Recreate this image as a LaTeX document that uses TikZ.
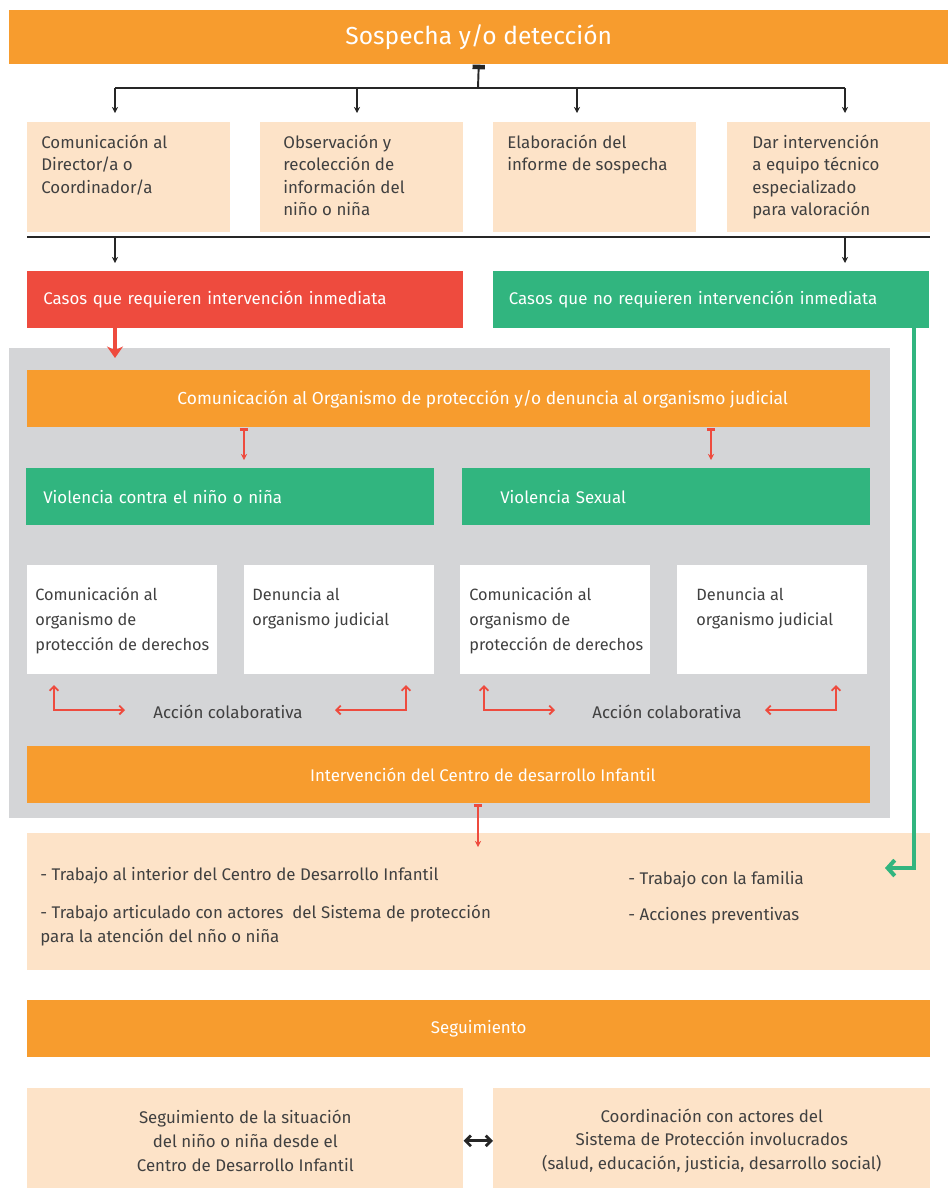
\documentclass[tikz,border=0pt]{standalone}
\usepackage{fontspec}
\setmainfont{Fira Sans}
\usetikzlibrary{arrows.meta}
\definecolor{flowOrange}{HTML}{F79C2E}
\definecolor{flowPeach}{HTML}{FDE3C8}
\definecolor{flowRed}{HTML}{EE4B3E}
\definecolor{flowGreen}{HTML}{31B57F}
\definecolor{flowGray}{HTML}{D4D5D7}
\definecolor{flowText}{HTML}{404040}
\newcommand{\bodyfont}{\fontsize{9.6}{12.8}\selectfont}
\begin{document}
\begin{tikzpicture}[x=0.02cm,y=-0.02cm,
    box/.style={rectangle,inner sep=0pt,anchor=north west},
    band/.style={box,minimum height=1.14cm,font=\bodyfont,text=white},
    txt/.style={inner sep=0pt,anchor=north west,align=left,font=\bodyfont,text=flowText},
    blackline/.style={draw=black!85,line width=1.1pt},
    blackarrow/.style={blackline,-{Stealth[length=3.5pt,width=3.5pt]}},
    redbar/.style={draw=flowRed,line width=1pt,{Bar[width=5pt,line width=1.8pt]}-{Stealth[length=3.5pt,width=3.5pt]}},
    redelbow/.style={draw=flowRed,line width=1.1pt,{Straight Barb[length=2.5pt,width=5pt]}-{Straight Barb[length=2.5pt,width=5pt]}}]
    \useasboundingbox (0,0) rectangle (948,1188);
    %% Top
    \node[box,fill=flowOrange,minimum width=18.78cm,minimum height=1.08cm,text=white,font=\fontsize{14}{16}\selectfont] (sos) at (9,10) {Sospecha y/o detección};
    \coordinate (hub) at (478,88);
    \foreach \x [count=\i] in {115,357,577,845}
        \coordinate (d\i) at (\x,113);
    \draw[blackline,{Bar[width=7pt,line width=2.6pt]}-] (sos.south) -- (hub);
    \draw[blackline] (d1 |- hub) -- (d4 |- hub);
    \foreach \i in {1,...,4}
        \draw[blackarrow] (d\i |- hub) -- (d\i);
    %% First steps
    \foreach \x [count=\i] in {27,260,493,727}
        \node[box,fill=flowPeach,minimum width=4.06cm,minimum height=2.2cm] (step\i) at (\x,122) {};
    \node[txt] (step1t) at (41,134.5) {Comunicación al\\Director/a o\\Coordinador/a};
    \node[txt] (step2t) at (283,134.5) {Observación y\\recolección de\\información del\\niño o niña};
    \node[txt] (step3t) at (507,134.5) {Elaboración del\\informe de sospecha};
    \node[txt] (step4t) at (752,134.5) {Dar intervención\\a equipo técnico\\especializado\\para valoración};
    \coordinate (sepL) at (27,237);
    \coordinate (sepR) at (930,237);
    \coordinate (e1) at (115,263);
    \coordinate (e2) at (845,263);
    \draw[blackline,line width=1.5pt] (sepL) -- (sepR);
    \draw[blackarrow] (e1 |- sepL) -- (e1);
    \draw[blackarrow] (e2 |- sepL) -- (e2);
    %% Cases
    \node[band,fill=flowRed,minimum width=8.72cm,text width=8.08cm,inner xsep=0.32cm,align=left] (urgent) at (27,271) {Casos que requieren intervención inmediata};
    \node[band,fill=flowGreen,minimum width=8.72cm,text width=8.1cm,inner xsep=0.31cm,align=left] (nourgent) at (493,271) {Casos que no requieren intervención inmediata};
    %% Protection block
    \fill[flowGray] (9,348) rectangle (890,818);
    \coordinate (f0) at (115,328);
    \coordinate (f1) at (115,358);
    \draw[draw=flowRed,line width=2.3pt,-{Stealth[length=6.5pt,width=9pt,inset=2pt]}] (f0) -- (f1);
    \node[band,fill=flowOrange,minimum width=16.86cm,font=\fontsize{9.9}{12}\selectfont] (organismo) at (27,370) {\hspace*{1.36cm}Comunicación al Organismo de protección y/o denuncia al organismo judicial};
    \coordinate (v1) at (244,460);
    \coordinate (v2) at (711,460);
    \draw[redbar] (organismo.south -| v1) -- (v1);
    \draw[redbar] (organismo.south -| v2) -- (v2);
    \node[band,fill=flowGreen,minimum width=8.16cm,text width=7.48cm,inner xsep=0.34cm,align=left] (viol1) at (26,468) {Violencia contra el niño o niña};
    \node[band,fill=flowGreen,minimum width=8.16cm,text width=6.64cm,inner xsep=0.76cm,align=left] (viol2) at (462,468) {Violencia Sexual};
    \foreach \x [count=\i] in {27,244,460,677}
        \node[box,fill=white,minimum width=3.8cm,minimum height=2.18cm] (act\i) at (\x,565) {};
    \node[txt,font=\fontsize{9.3}{14.2}\selectfont] (act1t) at (35,587.5) {Comunicación al\\organismo de\\protección de derechos};
    \node[txt,font=\fontsize{9.3}{14.2}\selectfont] (act2t) at (252,587.5) {Denuncia al\\organismo judicial};
    \node[txt,font=\fontsize{9.3}{14.2}\selectfont] (act3t) at (469,587.5) {Comunicación al\\organismo de\\protección de derechos};
    \node[txt,font=\fontsize{9.3}{14.2}\selectfont] (act4t) at (696,587.5) {Denuncia al\\organismo judicial};
    %% Collaboration
    \foreach \xa/\xb/\xc/\xd/\xm [count=\i] in {54/125/406/335/228,484/555/836/765/667}{
        \coordinate (ca\i) at (\xa,685);
        \coordinate (cb\i) at (\xb,710);
        \coordinate (cc\i) at (\xc,685);
        \coordinate (cd\i) at (\xd,710);
        \draw[redelbow] (ca\i) |- (cb\i);
        \draw[redelbow] (cc\i) |- (cd\i);
        \node[font=\bodyfont,text=flowText,inner sep=0pt] (colab\i) at (\xm,712) {Acción colaborativa};
    }
    \node[band,fill=flowOrange,minimum width=16.86cm] (cdi) at (27,746) {\hspace*{1.36cm}Intervención del Centro de desarrollo Infantil};
    %% Work
    \node[box,fill=flowPeach,minimum width=18.06cm,minimum height=2.74cm] (work) at (27,833) {};
    \coordinate (w1) at (478,847);
    \draw[redbar] (cdi.south -| w1) -- (w1);
    \node[txt] (work1) at (40,867) {- Trabajo al interior del Centro de Desarrollo Infantil};
    \node[txt,font=\fontsize{9.6}{13.6}\selectfont] (work2) at (40,905) {- Trabajo articulado con actores\ \ del Sistema de protección\\para la atención del nño o niña};
    \node[txt] (work3) at (628,871) {- Trabajo con la familia};
    \node[txt] (work4) at (628,907) {- Acciones preventivas};
    \coordinate (g0) at (914,328);
    \coordinate (g1) at (885,868);
    \draw[draw=flowGreen,line width=2.3pt,-{Straight Barb[length=4pt,width=9pt]}] (g0) |- (g1);
    %% Follow-up
    \node[band,fill=flowOrange,minimum width=18.06cm] (seg) at (27,1000) {Seguimiento};
    \node[box,fill=flowPeach,minimum width=8.72cm,minimum height=2.1cm,align=center,font=\fontsize{9.6}{13.4}\selectfont,text=flowText] (seg1) at (27,1088) {Seguimiento de la situación\\del niño o niña desde el\\Centro de Desarrollo Infantil};
    \node[box,fill=flowPeach,minimum width=8.74cm,minimum height=2.1cm,align=center,font=\fontsize{9.6}{13.4}\selectfont,text=flowText] (seg2) at (493,1088) {Coordinación con actores del\\Sistema de Protección involucrados\\(salud, educación, justicia, desarrollo social)};
    \draw[draw=black!85,line width=1.6pt,{Straight Barb[length=3pt,width=6pt]}-{Straight Barb[length=3pt,width=6pt]}] (seg1.east) -- (seg2.west);
\end{tikzpicture}
\end{document}
